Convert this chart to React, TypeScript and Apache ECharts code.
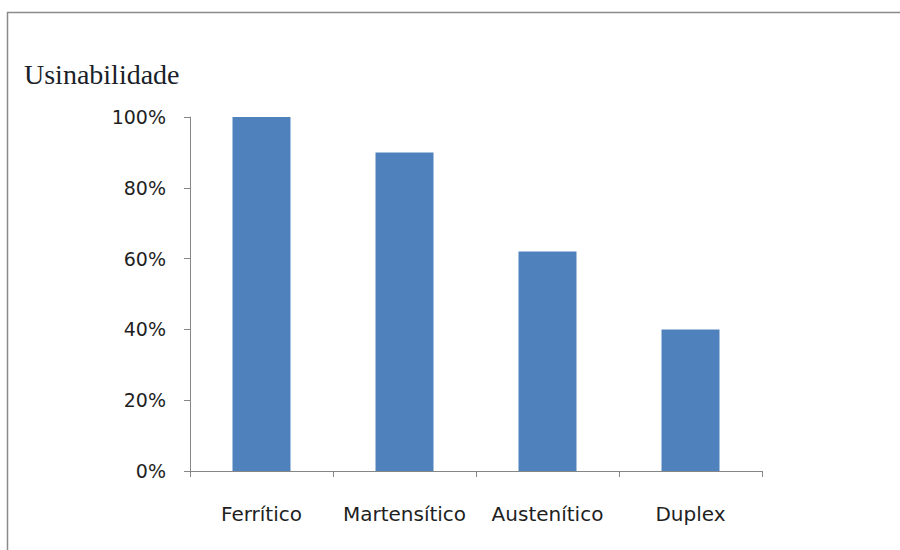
import React, { useEffect, useRef } from "react";
import * as echarts from "echarts";

const categories = ["Ferrítico", "Martensítico", "Austenítico", "Duplex"];
const values = [100, 90, 62, 40];
const axisTitle = "Usinabilidade";

export default function App() {
  const ref = useRef<HTMLDivElement>(null);
  useEffect(() => {
    const chart = echarts.init(ref.current!, null, { renderer: "svg" });
    chart.setOption({
      animation: false,
      backgroundColor: "#ffffff",
      grid: { left: 190, right: 138, top: 117, bottom: 79, containLabel: false },
      xAxis: {
        type: "category",
        data: categories,
        boundaryGap: true,
        axisLine: { lineStyle: { color: "#868686", width: 1 } },
        axisTick: { show: true, alignWithLabel: false, length: 6, lineStyle: { color: "#868686" } },
        axisLabel: {
          interval: 0,
          hideOverlap: false,
          margin: 33,
          color: "#1f1f1f",
          fontFamily: "DejaVu Sans",
          fontSize: 20,
        },
      },
      yAxis: {
        type: "value",
        min: 0,
        max: 100,
        interval: 20,
        axisLine: { show: true, lineStyle: { color: "#868686", width: 1 } },
        axisTick: { show: true, length: 6, lineStyle: { color: "#868686" } },
        splitLine: { show: false },
        axisLabel: {
          formatter: "{value}%",
          margin: 24,
          color: "#1f1f1f",
          fontFamily: "DejaVu Sans",
          fontSize: 19,
        },
      },
      series: [
        {
          type: "bar",
          data: values,
          barWidth: 58,
          itemStyle: { color: "#4F81BD" },
        },
      ],
      graphic: [
        {
          type: "line",
          shape: { x1: 7, y1: 12.5, x2: 900, y2: 12.5 },
          style: { stroke: "#8a8a8a", lineWidth: 1.5 },
        },
        {
          type: "line",
          shape: { x1: 7.5, y1: 12, x2: 7.5, y2: 550 },
          style: { stroke: "#8a8a8a", lineWidth: 1.5 },
        },
        {
          type: "text",
          left: 24,
          top: 60,
          style: {
            text: axisTitle,
            fontFamily: "Liberation Serif",
            fontSize: 28,
            fill: "#1a1f2a",
          },
        },
      ],
    });
    return () => chart.dispose();
  }, []);
  return <div ref={ref} style={{ width: 900, height: 550, position: "absolute", left: 0, top: 0 }} />;
}
